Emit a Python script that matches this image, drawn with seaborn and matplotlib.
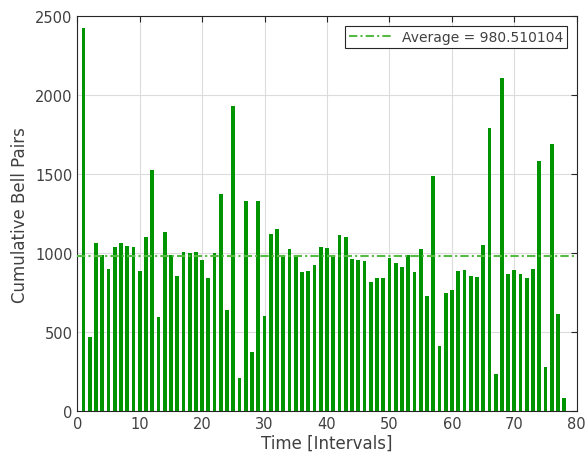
import matplotlib
matplotlib.use("Agg")
import matplotlib.pyplot as plt
import seaborn as sns
import numpy as np
import pandas as pd

intervals = list(range(1, 79))
bell_pairs = [
    2424, 468, 1065, 989, 899, 1038, 1065, 1044, 1038, 884,
    1103, 1525, 593, 1133, 989, 857, 1006, 1000, 1006, 956,
    840, 1000, 1373, 643, 1928, 207, 1331, 373, 1331, 599,
    1118, 1154, 989, 1023, 981, 878, 886, 922, 1038, 1032,
    973, 1112, 1103, 964, 956, 949, 819, 842, 842, 970,
    937, 913, 989, 878, 1023, 726, 1489, 411, 745, 768,
    884, 890, 857, 848, 1051, 1791, 236, 2110, 869, 890,
    869, 842, 899, 1584, 278, 1688, 614, 82,
]
average = 980.510104
x_ticks = [0, 10, 20, 30, 40, 50, 60, 70, 80]
y_ticks = [0, 500, 1000, 1500, 2000, 2500]

df = pd.DataFrame({"Interval": intervals, "Pairs": bell_pairs})

sns.set_style("white")
plt.rcParams["font.family"] = ["DejaVu Sans"]

txt = "#404040"
fig = plt.figure(figsize=(5.85, 4.6), dpi=100)
ax = fig.add_axes([0.132, 0.104, 0.854, 0.859])

sns.barplot(data=df, x="Interval", y="Pairs", native_scale=True,
            color="#009400", saturation=1, width=0.6, linewidth=0,
            ax=ax, zorder=2)

ax.axhline(average, color="#55bb44", linestyle=(0, (4, 1.5, 1, 1.5)),
           linewidth=1.5, label=f"Average = {average:.6f}", zorder=3)

ax.set_xlim(0, 80)
ax.set_ylim(0, 2500)
ax.set_xticks(x_ticks)
ax.set_yticks(y_ticks)
ax.grid(True, color="#dcdcdc", linewidth=0.8, zorder=0)
ax.set_axisbelow(True)
ax.tick_params(direction="in", top=True, right=True, length=4,
               colors="#262626", labelsize=10.5, labelcolor=txt)
for s in ax.spines.values():
    s.set_color("#262626")
    s.set_linewidth(0.8)

ax.set_xlabel("Time [Intervals]", fontsize=12, color=txt, labelpad=2)
ax.set_ylabel("Cumulative Bell Pairs", fontsize=12, color=txt, labelpad=4)

leg = ax.legend(loc="upper right", fontsize=10, frameon=True, fancybox=False,
                edgecolor="#262626", framealpha=1, handlelength=3,
                borderaxespad=0.7, borderpad=0.3, labelcolor=txt)
leg.get_frame().set_linewidth(0.8)

fig.savefig("out.png", dpi=100)
